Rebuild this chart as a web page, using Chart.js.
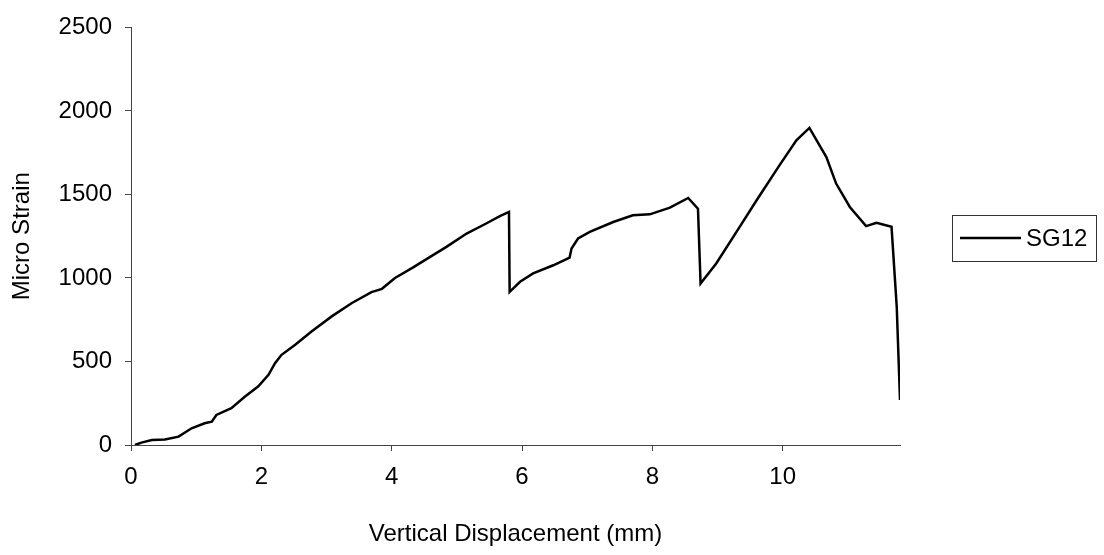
<!DOCTYPE html>
<html>
<head>
<meta charset="utf-8">
<script src="https://cdn.jsdelivr.net/npm/chart.js@4/dist/chart.umd.min.js"></script>
<style>
  body { margin: 0; background: #fff; }
  #wrap { width: 1104px; height: 555px; }
</style>
</head>
<body>
<div id="wrap"><canvas id="myChart" width="1104" height="555"></canvas></div>
<script>
// displacement (mm) / micro strain
var seriesName = 'SG12';
var displacement = [0.06, 0.16, 0.32, 0.52, 0.73, 0.93, 1.13, 1.24, 1.31, 1.54, 1.75, 1.95, 2.11, 2.21, 2.31, 2.52, 2.77, 3.08, 3.39, 3.69, 3.85, 4.05, 4.33, 4.59, 4.84, 5.15, 5.45, 5.66, 5.80, 5.81, 5.97, 6.17, 6.48, 6.73, 6.76, 6.86, 7.04, 7.40, 7.70, 7.96, 8.27, 8.55, 8.70, 8.74, 8.98, 9.34, 9.60, 9.95, 10.21, 10.41, 10.67, 10.82, 11.03, 11.28, 11.44, 11.67, 11.75, 11.80];
var microStrain = [0, 14, 30, 33, 50, 100, 130, 140, 180, 220, 290, 350, 420, 490, 540, 600, 680, 770, 850, 915, 935, 1000, 1063, 1126, 1186, 1266, 1326, 1370, 1395, 917, 977, 1027, 1076, 1122, 1176, 1236, 1276, 1335, 1375, 1381, 1421, 1479, 1415, 967, 1087, 1306, 1465, 1674, 1824, 1898, 1724, 1565, 1425, 1310, 1330, 1306, 827, 269];
var xTicks = [0, 2, 4, 6, 8, 10];
var yTicks = [0, 500, 1000, 1500, 2000, 2500];

var points = displacement.map(function (x, i) { return { x: x, y: microStrain[i] }; });
var font = { family: 'Liberation Sans, Arial, sans-serif', size: 24 };

// legend drawn with a border box, like the original
var boxedLegend = {
    id: 'boxedLegend',
    afterDraw: function (chart) {
        var c = chart.ctx;
        var ds = chart.data.datasets[0];
        c.save();
        c.strokeStyle = '#333';
        c.lineWidth = 1;
        c.strokeRect(952.5, 215.5, 144, 46);
        c.strokeStyle = ds.borderColor;
        c.lineWidth = ds.borderWidth;
        c.beginPath();
        c.moveTo(960, 238);
        c.lineTo(1021, 238);
        c.stroke();
        c.fillStyle = '#000';
        c.font = font.size + 'px ' + font.family;
        c.textBaseline = 'middle';
        c.fillText(ds.label, 1026, 239);
        c.restore();
    }
};

var ctx = document.getElementById('myChart').getContext('2d');
new Chart(ctx, {
    type: 'line',
    data: {
        datasets: [{
            label: seriesName,
            data: points,
            borderColor: '#000',
            borderWidth: 2.5,
            pointRadius: 0,
            tension: 0,
            fill: false
        }]
    },
    options: {
        responsive: false,
        animation: false,
        layout: { padding: { top: 24, right: 204, left: 0, bottom: 0 } },
        plugins: { legend: { display: false }, tooltip: { enabled: false } },
        scales: {
            x: {
                type: 'linear',
                min: 0,
                max: 11.8,
                afterFit: function (s) { s.height = 110; },
                afterBuildTicks: function (s) { s.ticks = xTicks.map(function (v) { return { value: v }; }); },
                grid: { drawOnChartArea: false, drawTicks: true, tickLength: 6, color: '#444' },
                border: { color: '#444', width: 1 },
                ticks: { color: '#000', font: font, padding: 12, maxRotation: 0, callback: function (v) { return String(v); } },
                title: { display: true, text: 'Vertical Displacement (mm)', color: '#000', font: font, padding: { top: 0, bottom: 6 } }
            },
            y: {
                min: 0,
                max: 2500,
                afterFit: function (s) { s.width = 131; },
                afterBuildTicks: function (s) { s.ticks = yTicks.map(function (v) { return { value: v }; }); },
                grid: { drawOnChartArea: false, drawTicks: true, tickLength: 6, color: '#444' },
                border: { color: '#444', width: 1 },
                ticks: { color: '#000', font: font, padding: 13, callback: function (v) { return String(v); } },
                title: { display: true, text: 'Micro Strain', color: '#000', font: font, padding: { top: 8, bottom: 0 } }
            }
        }
    },
    plugins: [boxedLegend]
});
</script>
</body>
</html>
